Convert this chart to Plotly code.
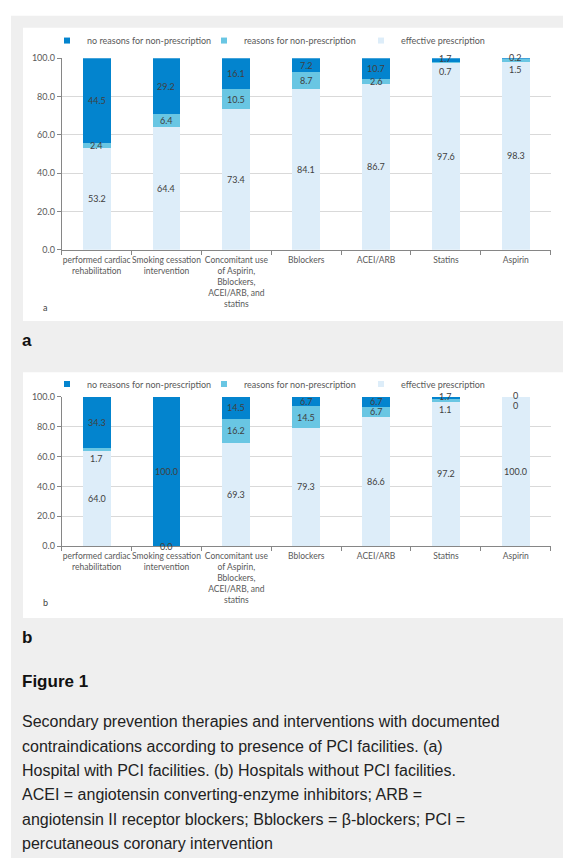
import plotly.graph_objects as go

W, H = 563, 863

# ---------------- data ----------------
categories = [
    "performed cardiac<br>rehabilitation",
    "Smoking cessation<br>intervention",
    "Concomitant use<br>of Aspirin,<br>Bblockers,<br>ACEI/ARB, and<br>statins",
    "Bblockers",
    "ACEI/ARB",
    "Statins",
    "Aspirin",
]
series_names = ["no reasons for non-prescription", "reasons for non-prescription", "effective prescription"]

a_effective = [53.2, 64.4, 73.4, 84.1, 86.7, 97.6, 98.3]
a_reasons = [2.4, 6.4, 10.5, 8.7, 2.6, 0.7, 1.5]
a_no_reasons = [44.5, 29.2, 16.1, 7.2, 10.7, 1.7, 0.2]

b_effective = [64.0, 0.0, 69.3, 79.3, 86.6, 97.2, 100.0]
b_reasons = [1.7, None, 16.2, 14.5, 6.7, 1.1, 0]
b_no_reasons = [34.3, 100.0, 14.5, 6.7, 6.7, 1.7, 0]

y_ticks = [0, 20, 40, 60, 80, 100]

caption_lines = [
    "Secondary prevention therapies and interventions with documented",
    "contraindications according to presence of PCI facilities. (a)",
    "Hospital with PCI facilities. (b) Hospitals without PCI facilities.",
    "ACEI = angiotensin converting-enzyme inhibitors; ARB =",
    "angiotensin II receptor blockers; Bblockers = \u03b2-blockers; PCI =",
    "percutaneous coronary intervention",
]

# ---------------- style ----------------
C_NO = "#0384ce"
C_RE = "#69c6e3"
C_EF = "#ddedf9"
colors = [C_NO, C_RE, C_EF]
CHART_FONT = "Lato"
AX_COLOR = "#868686"
GRID = "#d9d9d9"
TXT = "#595959"
LBL = "#404040"


def px(x):
    return x / W


def py(y):
    return 1 - y / H


fig = go.Figure()
ann = []


def fmt(v):
    if isinstance(v, int):
        return str(v)
    return f"{v:.1f}"


def add_panel(eff, rea, nor, xa, ya, legend_name):
    # stacked bars: effective bottom, reasons middle, no reasons top
    for vals, name, col in [(eff, series_names[2], C_EF), (rea, series_names[1], C_RE), (nor, series_names[0], C_NO)]:
        fig.add_trace(go.Bar(x=categories, y=vals, name=name, marker=dict(color=col, line=dict(width=0)),
                             xaxis=xa, yaxis=ya, showlegend=False, hoverinfo="skip"))
    # data labels at segment middles (small segments nudged apart like Excel)
    for i, c in enumerate(categories):
        base = 0.0
        for k, vals in enumerate([eff, rea, nor]):
            v = vals[i]
            if v is None:
                continue
            shift = 0
            if k == 1 and v < 2:
                shift = -9
            elif k == 2 and v < 2:
                shift = 1.5
            ann.append(dict(x=c, y=base + v / 2, xref=xa, yref=ya, text=fmt(v), showarrow=False,
                            yshift=shift, xanchor="center", yanchor="middle",
                            font=dict(family=CHART_FONT, size=9, color=LBL)))
            base += v
    # legend entries
    for name, col in zip(series_names, colors):
        fig.add_trace(go.Scatter(x=[None], y=[None], mode="markers", name=name,
                                 marker=dict(symbol="square", size=6, color=col),
                                 xaxis=xa, yaxis=ya, legend=legend_name, showlegend=True))


add_panel(a_effective, a_reasons, a_no_reasons, "x", "y", "legend")
add_panel(b_effective, b_reasons, b_no_reasons, "x2", "y2", "legend2")

x_dom = [px(61.7), px(550.7)]
xcommon = dict(showline=True, linecolor=AX_COLOR, linewidth=1, ticks="outside", tickson="boundaries",
               ticklen=4, tickcolor=AX_COLOR, showgrid=False, tickfont=dict(family=CHART_FONT, size=8.5, color=TXT),
               domain=x_dom, fixedrange=True, tickangle=0, ticklabelstandoff=2)
ycommon = dict(range=[0, 100], tickvals=y_ticks, tickformat=".1f", showgrid=True, gridcolor=GRID, gridwidth=1,
               showline=True, linecolor=AX_COLOR, linewidth=1, ticks="outside", ticklen=4, tickcolor=AX_COLOR,
               zeroline=False, tickfont=dict(family=CHART_FONT, size=9, color=TXT), fixedrange=True)

legcommon = dict(orientation="h", font=dict(family=CHART_FONT, size=9, color=TXT), bgcolor="rgba(0,0,0,0)",
                 xanchor="left", yanchor="middle", itemwidth=30, entrywidth=112, entrywidthmode="pixels",
                 traceorder="normal", itemclick=False, itemdoubleclick=False)

fig.update_layout(
    width=W, height=H, margin=dict(l=0, r=0, t=0, b=0),
    paper_bgcolor="white", plot_bgcolor="white",
    barmode="stack", bargap=0.6,
    xaxis=dict(**xcommon, anchor="y"),
    yaxis=dict(**ycommon, domain=[py(247), py(53)], anchor="x"),
    xaxis2=dict(**xcommon, anchor="y2"),
    yaxis2=dict(**ycommon, domain=[py(547), py(396)], anchor="x2"),
    legend=dict(**legcommon, x=px(47), y=py(35)),
    legend2=dict(**legcommon, x=px(47), y=py(383)),
)

shapes = [
    dict(type="rect", xref="paper", yref="paper", x0=px(11), x1=px(W), y0=py(H), y1=py(10),
         fillcolor="#efefef", line=dict(width=0), layer="below"),
    dict(type="rect", xref="paper", yref="paper", x0=px(23), x1=px(W), y0=py(319), y1=py(22),
         fillcolor="white", line=dict(width=0), layer="below"),
    dict(type="rect", xref="paper", yref="paper", x0=px(23), x1=px(W), y0=py(620), y1=py(371),
         fillcolor="white", line=dict(width=0), layer="below"),
]
fig.update_layout(shapes=shapes)


def text(x, y, s, size, family, color, bold=False):
    ann.append(dict(xref="paper", yref="paper", x=px(x), y=py(y), text=f"<b>{s}</b>" if bold else s,
                    showarrow=False, xanchor="left", yanchor="middle",
                    font=dict(family=family, size=size, color=color)))


text(41, 305, "a", 9, CHART_FONT, LBL)
text(41, 604, "b", 9, CHART_FONT, LBL)
text(20, 339, "a", 17, "Liberation Sans", "#111", bold=True)
text(20, 640, "b", 17, "Liberation Sans", "#111", bold=True)
text(20, 684, "Figure 1", 17, "Liberation Sans", "#111", bold=True)
y0 = 725
for i, line in enumerate(caption_lines):
    text(20, y0 + i * 24.7, line, 16, "Liberation Sans", "#222")

fig.update_layout(annotations=ann)

fig.write_html("out.html", config={"displayModeBar": False},
               post_script="document.body.style.margin='0';")
